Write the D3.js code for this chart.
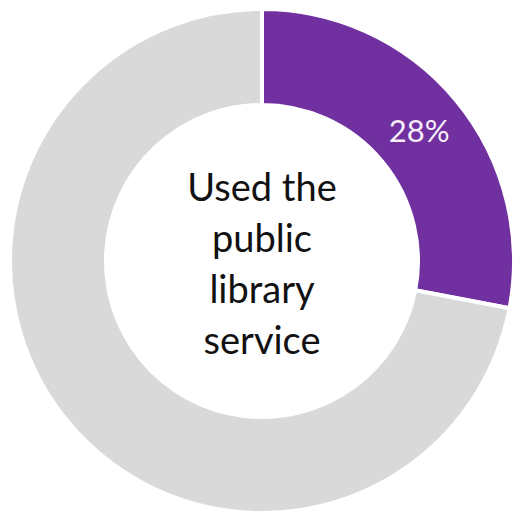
<!DOCTYPE html>
<html>
<head>
<meta charset="utf-8">
<script src="https://cdn.jsdelivr.net/npm/d3@7"></script>
<style>
  html, body { margin: 0; padding: 0; background: #ffffff; }
  svg { display: block; }
</style>
</head>
<body>
<script>
// Share of respondents who used the public library service
const categories = ["Used the public library service", "Did not use"];
const values = [28, 72];
const sliceColors = ["#7030A0", "#D9D9D9"];
const centerLines = ["Used the", "public", "library", "service"];

const width = 513, height = 516;
const cx = 262, cy = 261;
const outerR = 252, innerR = 156;

const svg = d3.select("body").append("svg")
  .attr("width", width)
  .attr("height", height);

const g = svg.append("g").attr("transform", `translate(${cx},${cy})`);

const pie = d3.pie().sort(null).value(d => d.value);
const arc = d3.arc().innerRadius(innerR).outerRadius(outerR);

const data = categories.map((c, i) => ({ category: c, value: values[i], color: sliceColors[i] }));
const arcs = pie(data);

g.selectAll("path.slice")
  .data(arcs)
  .join("path")
  .attr("class", "slice")
  .attr("d", arc)
  .attr("fill", d => d.data.color)
  .attr("stroke", "#ffffff")
  .attr("stroke-width", 4);

// Percentage label on the highlighted slice
g.selectAll("text.pct")
  .data(arcs.slice(0, 1))
  .join("text")
  .attr("class", "pct")
  .attr("transform", d => `translate(${arc.centroid(d)})`)
  .attr("text-anchor", "middle")
  .attr("dy", "0.35em")
  .attr("font-family", "Lato, 'Open Sans', sans-serif")
  .attr("font-size", 31)
  .attr("fill", "#F7EEF9")
  .text(d => `${d.data.value}%`);

// Centre caption
const lineH = 51;
const firstBaseline = 201 - cy;
g.append("text")
  .attr("text-anchor", "middle")
  .attr("font-family", "Lato, 'Open Sans', sans-serif")
  .attr("font-size", 38)
  .attr("fill", "#111111")
  .selectAll("tspan")
  .data(centerLines)
  .join("tspan")
  .attr("x", 0)
  .attr("y", (d, i) => firstBaseline + i * lineH)
  .text(d => d);
</script>
</body>
</html>
